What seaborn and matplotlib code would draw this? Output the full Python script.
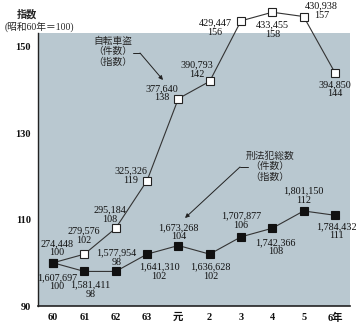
import numpy as np
import pandas as pd
import matplotlib
matplotlib.use("Agg")
import matplotlib.pyplot as plt
import seaborn as sns

# ---- data ----
years = ["60", "61", "62", "63", "元", "2", "3", "4", "5", "6年"]
bike_count = ["274,448", "279,576", "295,184", "325,326", "377,640",
              "390,793", "429,447", "433,455", "430,938", "394,850"]
bike_index = [100, 102, 108, 119, 138, 142, 156, 158, 157, 144]
crime_count = ["1,607,697", "1,581,411", "1,577,954", "1,641,310", "1,673,268",
               "1,636,628", "1,707,877", "1,742,366", "1,801,150", "1,784,432"]
crime_index = [100, 98, 98, 102, 104, 102, 106, 108, 112, 111]
y_ticks = [90, 110, 130, 150]

# ---- layout (label offsets in pixels, +y up) ----
bike_off = [(4, 14.5), (-1, 18.5), (-6, 13.5), (-16, 5), (-17, 5.5),
            (-13, 12), (-26, -6.5), (0, -17.5), (18, 6), (0, -16.5)]
crime_off = [(4, -19.5), (6, -18.5), (1, 14), (12, -17.5), (0, 13.5),
             (1, -17.5), (0, 16), (3, -19), (0, 15.5), (1, -16)]

sns.set_theme(style="white")
FAM = ["Liberation Serif", "Noto Sans CJK JP", "DejaVu Sans"]
plt.rcParams["font.family"] = FAM

W, H = 361, 324
fig = plt.figure(figsize=(W / 100, H / 100), dpi=100)
ax = fig.add_axes([38 / W, 18 / H, (350 - 38) / W, 306 / H])
ax.set_facecolor("white")

shade_top = 153.2
ax.set_xlim(-0.48, 9.48)
ax.set_ylim(90, 160.83)
ax.axhspan(90, shade_top, color="#b9c8d0", zorder=0, lw=0)

x = np.arange(len(years))
df = pd.DataFrame({"x": np.concatenate([x, x]),
                   "idx": bike_index + crime_index,
                   "s": ["bike"] * len(x) + ["crime"] * len(x)})

line_col = "#333333"
sns.lineplot(data=df[df.s == "bike"], x="x", y="idx", ax=ax, color=line_col,
             lw=0.8, marker="s", markersize=6.2, markerfacecolor="white",
             markeredgecolor="#222222", markeredgewidth=0.8, clip_on=False,
             zorder=3)
sns.lineplot(data=df[df.s == "crime"], x="x", y="idx", ax=ax, color=line_col,
             lw=0.8, marker="s", markersize=6.2, markerfacecolor="#111111",
             markeredgecolor="#111111", markeredgewidth=0.8, clip_on=False,
             zorder=3)

lab_kw = dict(textcoords="offset pixels", ha="center", va="center",
              fontsize=7.3, linespacing=1.05, color="#111111",
              annotation_clip=False)
for i in range(len(years)):
    ax.annotate(f"{bike_count[i]}\n{bike_index[i]}", xy=(x[i], bike_index[i]),
                xytext=bike_off[i], **lab_kw)
    ax.annotate(f"{crime_count[i]}\n{crime_index[i]}", xy=(x[i], crime_index[i]),
                xytext=crime_off[i], **lab_kw)

# axes styling
for s in ["top", "right"]:
    ax.spines[s].set_visible(False)
ax.spines["left"].set_bounds(90, shade_top)
ax.spines["left"].set_color("#222222")
ax.spines["bottom"].set_color("#222222")
ax.spines["left"].set_linewidth(1.0)
ax.spines["bottom"].set_linewidth(1.2)

ax.set_xticks(x, years)
ax.set_yticks(y_ticks)
ax.tick_params(axis="x", direction="in", length=3, width=0.8, pad=5,
               colors="#222222", labelsize=7.5)
ax.tick_params(axis="y", direction="out", length=4, width=0.8, pad=1,
               colors="#222222", labelsize=7.5)
for t in ax.get_xticklabels() + ax.get_yticklabels():
    t.set_fontweight("bold")
    t.set_color("#111111")
ax.set_xlabel("")
ax.set_ylabel("")

# y axis title
fig.text(27 / W, 1 - 15 / H, "指数", ha="center", va="center", fontsize=7.3,
         fontweight="bold", family=FAM)
fig.text(39 / W, 1 - 27 / H, "(昭和60年＝100)", ha="center", va="center",
         fontsize=7.0, family=FAM)

# series names with leader arrows
fig.text(113 / W, 1 - 51.5 / H, "自転車盗\n（件数）\n（指数）", ha="center",
         va="center", fontsize=7.0, linespacing=1.15, family=FAM)
fig.text(270 / W, 1 - 166.5 / H, "刑法犯総数\n（件数）\n（指数）", ha="center",
         va="center", fontsize=7.0, linespacing=1.15, family=FAM)

def leader(p0, p1, p2):
    fig.add_artist(plt.Line2D([p0[0] / W, p1[0] / W], [1 - p0[1] / H, 1 - p1[1] / H],
                              color="#222222", lw=0.7, transform=fig.transFigure))
    ax.annotate("", xy=(p2[0], H - p2[1]), xycoords="figure pixels",
                xytext=(p1[0], H - p1[1]), textcoords="figure pixels",
                arrowprops=dict(arrowstyle="-|>", color="#222222", lw=0.7,
                                mutation_scale=6, shrinkA=0, shrinkB=0),
                annotation_clip=False)

leader((133, 53), (140, 53), (163, 80))
leader((248, 167), (240, 167), (185, 218))

fig.savefig("out.png", dpi=100)
